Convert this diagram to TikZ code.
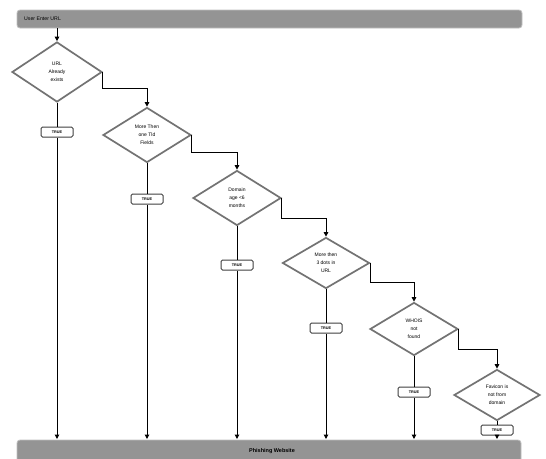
\documentclass[tikz,border=0pt]{standalone}
\usepackage{fontspec}
\setmainfont{Liberation Sans}
\usetikzlibrary{shapes.geometric,arrows.meta}
\begin{document}
\begin{tikzpicture}[x=1pt,y=-1pt,
  bar/.style={draw=black!25,line width=0.8pt,fill=black!42,rounded corners=3pt},
  dec/.style={shape=diamond,draw=black!55,line width=1.7pt,fill=white,inner sep=0pt,align=center,font=\fontsize{5}{8}\selectfont},
  truebox/.style={draw=black!75,line width=1pt,fill=white,rounded corners=1.5pt,minimum width=32pt,minimum height=10pt,inner sep=0pt,font=\bfseries\fontsize{3.8}{4}\selectfont},
  conn/.style={draw=black,line width=1pt},
  arr/.style={conn,-{Triangle[length=4.5pt,width=4.5pt]}}]
\useasboundingbox (0,0) rectangle (546,458);
\fill[white] (0,0) rectangle (546,458);
% bars
\draw[bar] (17,10) rectangle (522,28);
\node[anchor=west,font=\fontsize{5.2}{6}\selectfont,inner sep=0pt] (top) at (24,19) {User Enter URL};
\coordinate (topbar) at (57,28);
\draw[bar] (17,440) rectangle (521,464);
\node[font=\bfseries\fontsize{5.5}{6}\selectfont,inner sep=0pt] (bottom) at (272,451) {Phishing Website};
\coordinate (botline) at (0,439);
% decisions
\node[dec,minimum width=90pt,minimum height=60pt] (d1) at (57,72) {URL\\Already\\exists};
\node[dec,minimum width=88pt,minimum height=55pt] (d2) at (147,135) {More Then\\one Tld\\Fields};
\node[dec,minimum width=88pt,minimum height=55pt] (d3) at (237,198) {Domain\\age <6\\months};
\node[dec,minimum width=87pt,minimum height=51pt] (d4) at (326,263) {More then\\3 dots in\\URL};
\node[dec,minimum width=88pt,minimum height=53pt] (d5) at (414,329) {WHOIS\\not\\found};
\node[dec,minimum width=86pt,minimum height=51pt] (d6) at (497,395) {Favicon is\\not from\\domain};
% true boxes
\node[truebox] (t1) at (57,132) {TRUE};
\node[truebox] (t2) at (147,199) {TRUE};
\node[truebox] (t3) at (237,265) {TRUE};
\node[truebox] (t4) at (326,328) {TRUE};
\node[truebox] (t5) at (414,392) {TRUE};
\node[truebox] (t6) at (497,430) {TRUE};
% entry arrow
\draw[arr] (topbar) -- (d1.north);
% chain connectors
\draw[arr] (d1.east) -- ++(0,16) -| (d2.north);
\draw[arr] (d2.east) -- ++(0,17) -| (d3.north);
\draw[arr] (d3.east) -- ++(0,20) -| (d4.north);
\draw[arr] (d4.east) -- ++(0,19) -| (d5.north);
\draw[arr] (d5.east) -- ++(0,20) -| (d6.north);
% true branches
\foreach \i in {1,...,6}{
  \draw[conn] (d\i.south) -- (t\i.north);
  \draw[arr] (t\i.south) -- (t\i.south |- botline);
}
\end{tikzpicture}
\end{document}
